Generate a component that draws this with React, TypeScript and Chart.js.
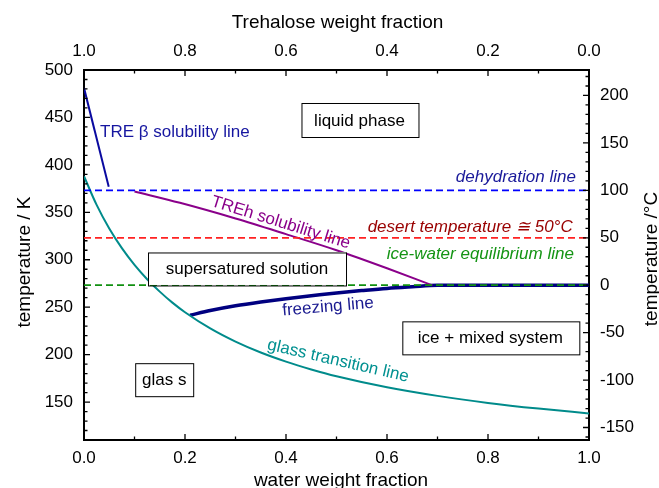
import React, { useEffect, useRef } from "react";
import { Chart, registerables } from "chart.js";

Chart.register(...registerables);

const FONT = '"Liberation Sans", Arial, Helvetica, sans-serif';

// ---- data (water weight fraction vs temperature in K) ----
const glassWater = [0, 0.025, 0.05, 0.075, 0.1, 0.125, 0.15, 0.175, 0.2, 0.25, 0.3, 0.35, 0.4, 0.45, 0.5, 0.6, 0.7, 0.8, 0.9, 1.0];
const glassTemp = [388, 357.8, 332.9, 312.2, 294.6, 279.5, 266.4, 254.8, 244.7, 227.6, 213.7, 202.2, 192.6, 184.4, 177.2, 165.6, 156.5, 149.1, 143.1, 138];

const freezingWater = [0.21, 0.25, 0.3, 0.35, 0.4, 0.45, 0.5, 0.55, 0.6, 0.65, 0.7, 0.8, 0.9, 1.0];
const freezingTemp = [241.5, 246.5, 251.5, 255.5, 259, 262, 265, 267.5, 269.8, 271.5, 273, 273.15, 273.15, 273.15];

const trehWater = [0.1, 0.19, 0.3, 0.4, 0.5, 0.6, 0.69];
const trehTemp = [372, 360, 343.5, 327, 310, 291, 273];

const treBetaWater = [0, 0.049];
const treBetaTemp = [481, 377];

const levelWater = [0, 1];
const dehydrationTemp = [373.15, 373.15];
const desertTemp = [323.15, 323.15];
const iceWaterTemp = [273.15, 273.15];

const K0 = 273.15;
const yMinK = 110;
const yMaxK = 500;

// ---- annotations (text in data coordinates) ----
type Label = {
  text: string; x: number; y: number; color: string;
  align?: CanvasTextAlign; italic?: boolean; rot?: number; box?: [number, number];
};
const labels: Label[] = [
  { text: "liquid phase", x: 0.5455, y: 447.3, color: "#000", box: [117, 34] },
  { text: "supersatured solution", x: 0.3228, y: 290.8, color: "#000", box: [198, 33] },
  { text: "ice + mixed system", x: 0.8046, y: 218.2, color: "#000", box: [177, 33] },
  { text: "glas s", x: 0.1588, y: 174.1, color: "#000", box: [58, 33] },
  { text: "TRE \u03b2 solubility line", x: 0.0317, y: 435, color: "#1616a0", align: "left" },
  { text: "dehydration line", x: 0.974, y: 388.3, color: "#1a1a9a", align: "right", italic: true },
  { text: "desert temperature \u2245 50\u00b0C", x: 0.9677, y: 335.6, color: "#990000", align: "right", italic: true },
  { text: "ice-water equilibrium line", x: 0.97, y: 307, color: "#149414", align: "right", italic: true },
  { text: "TREh solubility line", x: 0.39, y: 340.1, color: "#8a008a", rot: 17.3 },
  { text: "freezing line", x: 0.483, y: 251.3, color: "#1a1a90", rot: -5 },
  { text: "glass transition line", x: 0.5036, y: 194.3, color: "#009090", rot: 13 },
];

const pts = (xs: number[], ys: number[]) => xs.map((x, i) => ({ x, y: ys[i] }));

const overlayPlugin = {
  id: "overlay",
  afterDatasetsDraw(chart: any) {
    const ctx = chart.ctx as CanvasRenderingContext2D;
    const xs = chart.scales.x;
    const ys = chart.scales.y;
    ctx.save();
    for (const l of labels) {
      const px = xs.getPixelForValue(l.x);
      const py = ys.getPixelForValue(l.y);
      ctx.save();
      ctx.translate(px, py);
      if (l.rot) ctx.rotate((l.rot * Math.PI) / 180);
      if (l.box) {
        const [w, h] = l.box;
        ctx.fillStyle = "#fff";
        ctx.fillRect(-w / 2, -h / 2, w, h);
        ctx.strokeStyle = "#000";
        ctx.lineWidth = 1;
        ctx.strokeRect(Math.round(-w / 2) + 0.5, Math.round(-h / 2) + 0.5, w, h);
      }
      ctx.font = `${l.italic ? "italic " : ""}17px ${FONT}`;
      ctx.fillStyle = l.color;
      ctx.textAlign = l.align || "center";
      ctx.textBaseline = "middle";
      ctx.fillText(l.text, 0, 1);
      ctx.restore();
    }
    ctx.restore();
  },
  afterDraw(chart: any) {
    const ctx = chart.ctx as CanvasRenderingContext2D;
    const { left, right, top, bottom } = chart.chartArea;
    const xs = chart.scales.x;
    const x2 = chart.scales.x2;
    const ys = chart.scales.y;
    const y2 = chart.scales.y2;
    const MAJ = 6;
    const MIN = 3.5;
    ctx.save();
    ctx.strokeStyle = "#000";
    ctx.lineWidth = 1.3;
    ctx.beginPath();
    for (let i = 0; i <= 10; i++) {
      const v = i / 10;
      const len = i % 2 === 0 ? MAJ : MIN;
      const p = xs.getPixelForValue(v);
      ctx.moveTo(p, bottom);
      ctx.lineTo(p, bottom - len);
      const q = x2.getPixelForValue(v);
      ctx.moveTo(q, top);
      ctx.lineTo(q, top + len);
    }
    for (let k = 110; k <= 500; k += 10) {
      const len = k % 50 === 0 ? MAJ : MIN;
      const p = ys.getPixelForValue(k);
      ctx.moveTo(left, p);
      ctx.lineTo(left + len, p);
    }
    for (let c = -160; c <= 220; c += 10) {
      const len = c % 50 === 0 ? MAJ : MIN;
      const p = y2.getPixelForValue(c);
      ctx.moveTo(right, p);
      ctx.lineTo(right - len, p);
    }
    ctx.stroke();

    // axis titles
    ctx.fillStyle = "#000";
    ctx.font = `19px ${FONT}`;
    ctx.textAlign = "center";
    ctx.textBaseline = "middle";
    ctx.fillText("Trehalose weight fraction", 337.5, 23);
    ctx.fillText("water weight fraction", 341, 481);
    ctx.save();
    ctx.translate(25, 262);
    ctx.rotate(-Math.PI / 2);
    ctx.fillText("temperature / K", 0, 0);
    ctx.restore();
    ctx.save();
    ctx.translate(651.5, 259);
    ctx.rotate(-Math.PI / 2);
    ctx.fillText("temperature /\u00b0C", 0, 0);
    ctx.restore();
    ctx.restore();
  },
};

export default function App() {
  const ref = useRef<HTMLCanvasElement | null>(null);
  useEffect(() => {
    if (!ref.current) return;
    const tickFont = { family: FONT, size: 17 };
    const noGrid = { display: false, drawTicks: false, tickLength: 0 };
    const border = { display: true, color: "#000", width: 2 };
    const line = (data: any[], color: string, width: number, extra: any = {}) => ({
      data,
      borderColor: color,
      backgroundColor: color,
      borderWidth: width,
      pointRadius: 0,
      showLine: true,
      fill: false,
      ...extra,
    });
    const chart = new Chart(ref.current, {
      type: "scatter",
      data: {
        datasets: [
          line(pts(levelWater, iceWaterTemp), "#119011", 1.8, { borderDash: [7, 4] }),
          line(pts(levelWater, desertTemp), "#ff2222", 1.8, { borderDash: [7, 4] }),
          line(pts(levelWater, dehydrationTemp), "#0000ff", 1.8, { borderDash: [7, 4] }),
          line(pts(glassWater, glassTemp), "#008b8b", 2, { cubicInterpolationMode: "monotone" }),
          line(pts(trehWater, trehTemp), "#8a008a", 2, { cubicInterpolationMode: "monotone" }),
          line(pts(treBetaWater, treBetaTemp), "#0a0aa0", 2),
          line(pts(freezingWater, freezingTemp), "#000080", 3.5, { cubicInterpolationMode: "monotone" }),
        ],
      },
      options: {
        animation: false,
        responsive: false,
        devicePixelRatio: 1,
        layout: { padding: 0 },
        plugins: { legend: { display: false }, tooltip: { enabled: false } },
        scales: {
          x: {
            type: "linear",
            position: "bottom",
            min: 0,
            max: 1,
            grid: noGrid,
            border,
            ticks: {
              stepSize: 0.2,
              autoSkip: false,
              maxRotation: 0,
              padding: 8,
              color: "#000",
              font: tickFont,
              callback: (v: any) => Number(v).toFixed(1),
            },
            afterFit: (s: any) => { s.height = 48; },
          },
          x2: {
            type: "linear",
            position: "top",
            min: 0,
            max: 1,
            reverse: true,
            grid: noGrid,
            border,
            ticks: {
              stepSize: 0.2,
              autoSkip: false,
              maxRotation: 0,
              padding: 8,
              color: "#000",
              font: tickFont,
              callback: (v: any) => Number(v).toFixed(1),
            },
            afterFit: (s: any) => { s.height = 70; },
          },
          y: {
            type: "linear",
            position: "left",
            min: yMinK,
            max: yMaxK,
            grid: noGrid,
            border,
            ticks: {
              stepSize: 50,
              includeBounds: false,
              autoSkip: false,
              padding: 11,
              color: "#000",
              font: tickFont,
              callback: (v: any) => String(Math.round(Number(v))),
            },
            afterFit: (s: any) => { s.width = 84; },
          },
          y2: {
            type: "linear",
            position: "right",
            min: yMinK - K0,
            max: yMaxK - K0,
            grid: noGrid,
            border,
            ticks: {
              stepSize: 50,
              includeBounds: false,
              autoSkip: false,
              padding: 11,
              color: "#000",
              font: tickFont,
              callback: (v: any) => String(Math.round(Number(v))),
            },
            afterFit: (s: any) => { s.width = 70; },
          },
        },
      } as any,
      plugins: [overlayPlugin],
    });
    return () => chart.destroy();
  }, []);
  return (
    <div style={{ position: "fixed", left: 0, top: 0, width: 659, height: 488, background: "#fff" }}>
      <canvas ref={ref} width={659} height={488} style={{ width: 659, height: 488, display: "block" }} />
    </div>
  );
}
